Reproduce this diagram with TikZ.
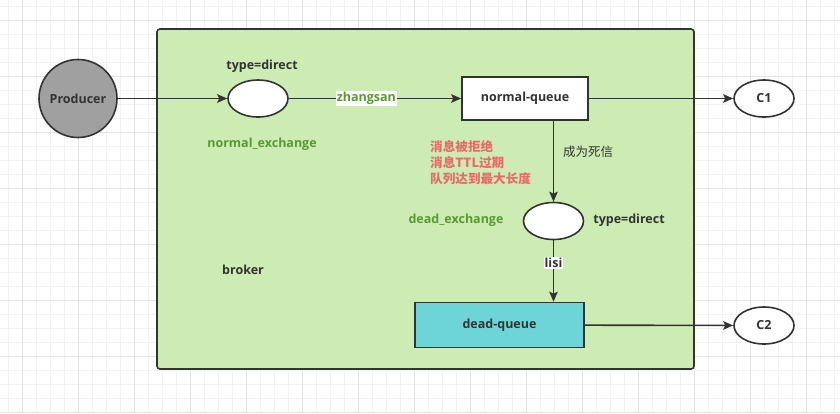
\documentclass[tikz,border=0pt]{standalone}
\usepackage{fontspec}
\setmainfont{Open Sans}
\newfontfamily\cjk{Noto Sans CJK SC}
\usetikzlibrary{arrows.meta,shapes.geometric}
\definecolor{ink}{HTML}{333333}
\definecolor{brokerfill}{HTML}{CCECB4}
\definecolor{prodfill}{HTML}{A0A0A0}
\definecolor{dqfill}{HTML}{6DD5D8}
\definecolor{grn}{HTML}{589A30}
\definecolor{rd}{HTML}{EA6B66}
\definecolor{gminor}{HTML}{F2F2F2}
\definecolor{gmajor}{HTML}{E4E4E4}
\tikzset{
  shapeline/.style={draw=ink, line width=1.6pt},
  ell/.style={shapeline, ellipse, fill=white, minimum width=60pt, minimum height=37pt, inner sep=0pt},
  qbox/.style={shapeline, rectangle, inner sep=0pt},
  conn/.style={draw=ink, line width=1.6pt, -{Stealth[length=10pt,width=8.5pt,inset=2pt]}},
  lbl/.style={font=\bfseries\fontsize{12.5}{14}\selectfont, text=ink, inner sep=1pt},
  glbl/.style={font=\bfseries\fontsize{12.5}{14}\selectfont, text=grn, inner sep=1pt},
  elbl/.style={fill=white, inner sep=1pt, font=\bfseries\fontsize{12.5}{14}\selectfont},
}
\begin{document}
\begin{tikzpicture}[x=1pt,y=-1pt]
\useasboundingbox (0,0) rectangle (840,413);
\fill[white] (0,0) rectangle (840,413);
% grid
\foreach \x in {8.7,22.7,...,840} \draw[gminor, line width=0.8pt] (\x,0) -- (\x,413);
\foreach \y in {6.7,20.7,...,413} \draw[gminor, line width=0.8pt] (0,\y) -- (840,\y);
\foreach \x in {22.7,78.7,...,840} \draw[gmajor, line width=0.8pt] (\x,0) -- (\x,413);
\foreach \y in {20.7,76.7,...,413} \draw[gmajor, line width=0.8pt] (0,\y) -- (840,\y);
% broker
\draw[shapeline, fill=brokerfill, rounded corners=3pt] (157,29) rectangle (694,369);
\node[lbl] (brk) at (243,270) {broker};
% nodes
\node[shapeline, circle, fill=prodfill, minimum size=78pt, inner sep=0pt, lbl] (prod) at (78,98.5) {Producer};
\node[ell] (ne) at (258,98.5) {};
\node[lbl] (netype) at (262,66) {type=direct};
\node[glbl] (nename) at (262,144) {normal\_exchange};
\node[qbox, fill=white, minimum width=126pt, minimum height=43pt, lbl] (nq) at (525,98.5) {normal-queue};
\node[ell, lbl] (c1) at (764,98.5) {C1};
\node[ell] (de) at (553.5,221) {};
\node[glbl] (dename) at (456,220) {dead\_exchange};
\node[lbl] (detype) at (629,220) {type=direct};
\node[qbox, fill=dqfill, minimum width=169pt, minimum height=45pt, lbl] (dq) at (499.5,325) {dead-queue};
\node[ell, lbl] (c2) at (764,325.5) {C2};
\node[anchor=west, align=left, text=rd, font=\cjk\bfseries\fontsize{12.6}{16}\selectfont, inner sep=0pt] (reasons) at (430,162.5) {消息被拒绝\\消息TTL过期\\队列达到最大长度};
\node[anchor=west, text=ink, font=\cjk\fontsize{12.5}{14}\selectfont, inner sep=0pt] (dead) at (563,152) {成为死信};
% connectors
\draw[conn] (prod) -- (ne);
\draw[conn] (ne) -- node[elbl, text=grn, pos=0.45] {zhangsan} (nq);
\draw[conn] (nq) -- (c1);
\draw[conn] (de.north |- nq.south) -- (de.north);
\draw[conn] (de.south) -- node[elbl, text=ink, pos=0.37] {lisi} (de.south |- dq.north);
\draw[conn] (dq) -- (c2);
\end{tikzpicture}
\end{document}
